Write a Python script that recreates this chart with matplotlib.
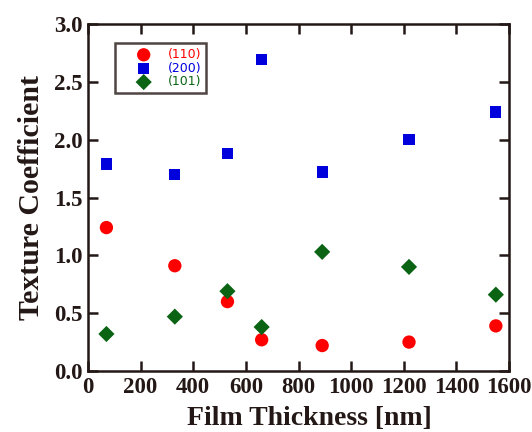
import matplotlib.pyplot as plt

thickness = [70, 330, 530, 660, 890, 1220, 1550]
tc_110 = [1.24, 0.91, 0.60, 0.27, 0.22, 0.25, 0.39]
tc_200 = [1.79, 1.70, 1.88, 2.69, 1.72, 2.00, 2.24]
tc_101 = [0.32, 0.47, 0.69, 0.38, 1.03, 0.90, 0.66]

ink = "#231815"
serif = ["Liberation Serif", "DejaVu Serif"]

fig = plt.figure(figsize=(5.32, 4.32), dpi=100)
ax = fig.add_axes([88 / 532, 1 - 371 / 432, 421 / 532, 347 / 432])

ax.scatter(thickness, tc_110, s=92, marker="o", color="#ff0000", edgecolors="none", label="(110)", zorder=3)
ax.scatter(thickness, tc_200, s=66, marker="s", color="#0000dd", edgecolors="none", label="(200)", zorder=3)
ax.scatter(thickness, tc_101, s=68, marker="D", color="#0a6414", edgecolors="none", label="(101)", zorder=3)

ax.set_xlim(0, 1600)
ax.set_ylim(0, 3.0)
ax.set_xticks(range(0, 1601, 200))
ax.set_yticks([0, 0.5, 1.0, 1.5, 2.0, 2.5, 3.0])
ax.set_yticklabels([f"{v:.1f}" for v in ax.get_yticks()])

for s in ax.spines.values():
    s.set_linewidth(1.8)
    s.set_color(ink)

ax.tick_params(direction="in", length=7, width=1.8, color=ink, top=True, right=True,
               labelsize=16.5, labelcolor=ink, pad=4)
for lab in ax.get_xticklabels() + ax.get_yticklabels():
    lab.set_fontfamily(serif)
    lab.set_fontweight("bold")

ax.set_xlabel("Film Thickness [nm]", fontsize=20, fontweight="bold", family=serif, color=ink)
ax.set_ylabel("Texture Coefficient", fontsize=21.5, fontweight="bold", family=serif, color=ink, labelpad=6)
ax.xaxis.set_label_coords(0.525, -0.1)

leg = ax.legend(loc="upper left", bbox_to_anchor=(0.064, 0.945), frameon=True, fancybox=False,
                fontsize=9, handletextpad=0.0, labelspacing=0.05, borderpad=0.4,
                borderaxespad=0.0, handlelength=3.8, markerscale=1.0)
leg.get_frame().set_edgecolor(ink)
leg.get_frame().set_linewidth(1.8)
for txt, c in zip(leg.get_texts(), ["#ff0000", "#0000dd", "#0a6414"]):
    txt.set_color(c)

fig.savefig("out.png", dpi=100, facecolor="white")
